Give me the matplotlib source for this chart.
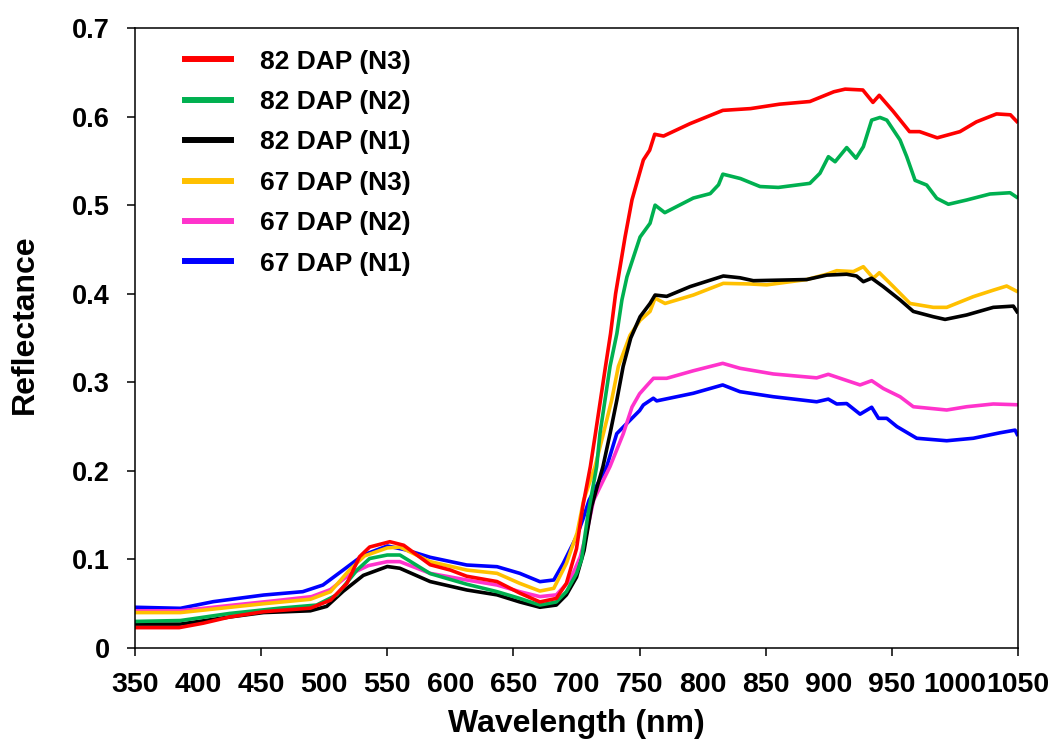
import matplotlib
matplotlib.use("Agg")
import matplotlib.pyplot as plt
from matplotlib.lines import Line2D

plt.rcParams['font.family'] = ['Liberation Sans', 'DejaVu Sans']
plt.rcParams['font.weight'] = 'bold'

# ---- spectra (wavelength nm, reflectance) ----
wl_82_n3 = [350, 385, 404, 425, 452, 489, 505, 518, 528, 536, 552, 563, 584, 600, 613, 637, 655, 671,
            684, 692, 700, 705, 711, 715, 719, 723, 727, 731, 738.5, 744, 753, 758, 762, 769, 790, 816,
            838, 861, 885, 904, 913, 927, 935, 940, 951, 964, 972, 986, 1004, 1017, 1033, 1044, 1050]
r_82_n3 = [0.023, 0.023, 0.028, 0.035, 0.041, 0.045, 0.054, 0.073, 0.103, 0.114, 0.120, 0.116, 0.094,
           0.088, 0.081, 0.075, 0.062, 0.052, 0.056, 0.073, 0.112, 0.160, 0.205, 0.242, 0.280, 0.318,
           0.355, 0.400, 0.464, 0.506, 0.551, 0.562, 0.580, 0.578, 0.592, 0.607, 0.609, 0.614, 0.617,
           0.628, 0.631, 0.630, 0.616, 0.624, 0.606, 0.583, 0.583, 0.576, 0.583, 0.594, 0.603, 0.602, 0.593]

wl_82_n2 = [350, 386, 425, 465, 494, 510, 526, 536, 550, 560, 584, 613, 637, 655, 671, 684, 692, 700,
            704, 709, 716, 718.6, 722.6, 726.6, 732, 736, 740, 750.4, 758.3, 762.3, 770, 792.6, 806,
            812.6, 816, 830, 845.5, 860, 885, 893, 899.7, 905, 914.2, 921.6, 927.4, 934, 940.6, 946,
            956.5, 961.8, 968.4, 977.6, 985.6, 994.8, 1009.3, 1027.8, 1043.7, 1050]
r_82_n2 = [0.030, 0.031, 0.039, 0.045, 0.0485, 0.060, 0.088, 0.101, 0.105, 0.105, 0.084, 0.072, 0.0636,
           0.056, 0.0485, 0.052, 0.0636, 0.084, 0.100, 0.150, 0.205, 0.242, 0.280, 0.318, 0.355, 0.393,
           0.419, 0.464, 0.4795, 0.500, 0.4915, 0.508, 0.513, 0.523, 0.535, 0.530, 0.521, 0.520, 0.5246,
           0.536, 0.5547, 0.549, 0.565, 0.553, 0.566, 0.596, 0.599, 0.596, 0.5735, 0.5547, 0.528, 0.5227,
           0.5077, 0.501, 0.5058, 0.5126, 0.514, 0.508]

wl_82_n1 = [350, 386, 425, 452, 489, 502, 515, 531, 550, 560, 584, 613, 637, 655, 671, 684, 692, 700,
            706, 712, 721, 726.6, 732, 737, 743, 750.4, 758.3, 762.3, 771.5, 790, 816.4, 829.6, 840.2,
            882.5, 898.4, 914.2, 922, 927.4, 934, 943.2, 956.5, 967, 982.9, 992.2, 1009.3, 1030.4,
            1046.3, 1050]
r_82_n1 = [0.027, 0.027, 0.035, 0.040, 0.042, 0.047, 0.064, 0.082, 0.092, 0.090, 0.075, 0.0655, 0.060,
           0.052, 0.046, 0.0485, 0.060, 0.080, 0.110, 0.160, 0.205, 0.242, 0.280, 0.318, 0.350, 0.374,
           0.389, 0.3985, 0.397, 0.408, 0.420, 0.418, 0.4147, 0.416, 0.421, 0.422, 0.420, 0.4136,
           0.4175, 0.408, 0.393, 0.380, 0.374, 0.371, 0.376, 0.3846, 0.386, 0.378]

wl_67_n3 = [350, 386, 452, 489, 505, 520, 532, 550, 560, 584, 613, 637, 655, 671, 682, 692, 700.5,
            705.7, 714.7, 721.3, 727.9, 733.2, 742.4, 750.4, 758.3, 762.3, 770.2, 792.6, 816.4, 837.6,
            850.8, 882.5, 898.4, 906.3, 919.5, 927.4, 935.3, 940.1, 951.2, 964.4, 982.9, 993.5,
            1014.6, 1030.4, 1041, 1050]
r_67_n3 = [0.040, 0.040, 0.050, 0.055, 0.0636, 0.088, 0.104, 0.113, 0.114, 0.0975, 0.088, 0.0843, 0.073,
           0.0643, 0.0674, 0.0956, 0.130, 0.167, 0.205, 0.242, 0.280, 0.318, 0.353, 0.370, 0.380, 0.395,
           0.389, 0.3985, 0.4117, 0.411, 0.410, 0.416, 0.422, 0.426, 0.425, 0.4305, 0.4175, 0.4237,
           0.408, 0.389, 0.3846, 0.3846, 0.3967, 0.404, 0.4087, 0.402]

wl_67_n2 = [350, 386, 425, 465, 490, 505, 520, 535, 550, 560, 584, 613, 637, 655, 671, 684, 695, 703,
            708, 713.6, 726.6, 737.1, 744, 750, 755.6, 761, 771.5, 792.6, 815.9, 829.6, 856, 890.4,
            899.6, 924.8, 934, 943.2, 956.5, 967, 993.5, 1009.3, 1030.4, 1050]
r_67_n2 = [0.042, 0.042, 0.048, 0.054, 0.058, 0.066, 0.083, 0.093, 0.0975, 0.0975, 0.0843, 0.0768,
           0.0711, 0.0636, 0.058, 0.060, 0.0768, 0.103, 0.130, 0.167, 0.205, 0.242, 0.272, 0.287, 0.296,
           0.3045, 0.3045, 0.313, 0.3214, 0.3158, 0.3094, 0.305, 0.309, 0.297, 0.3018, 0.293, 0.2837,
           0.2724, 0.2687, 0.2724, 0.2755, 0.2746]

wl_67_n1 = [350, 386, 412, 452, 483, 499, 515, 531, 550, 565, 584, 613, 637, 655, 671, 682, 689.5, 700,
            705, 710, 724, 731.9, 740, 750, 753, 760.9, 763.6, 792.6, 815.9, 829.6, 856, 890.4, 899.6,
            906.3, 914.2, 924.8, 934, 939.4, 946, 954, 969.7, 993.5, 1014.6, 1035.8, 1047.7, 1050]
r_67_n1 = [0.046, 0.0448, 0.0523, 0.0598, 0.0636, 0.0711, 0.088, 0.105, 0.1152, 0.1107, 0.1024, 0.0937,
           0.0918, 0.0843, 0.0749, 0.0768, 0.0956, 0.1257, 0.145, 0.167, 0.205, 0.242, 0.2537, 0.268,
           0.2744, 0.282, 0.279, 0.2876, 0.297, 0.2894, 0.2837, 0.278, 0.281, 0.2755, 0.276, 0.264,
           0.2718, 0.2593, 0.2593, 0.250, 0.2368, 0.234, 0.2368, 0.243, 0.246, 0.2394]

series = [
    ("82 DAP (N3)", wl_82_n3, r_82_n3, "#FF0000"),
    ("82 DAP (N2)", wl_82_n2, r_82_n2, "#00B050"),
    ("82 DAP (N1)", wl_82_n1, r_82_n1, "#000000"),
    ("67 DAP (N3)", wl_67_n3, r_67_n3, "#FFC000"),
    ("67 DAP (N2)", wl_67_n2, r_67_n2, "#FF33CC"),
    ("67 DAP (N1)", wl_67_n1, r_67_n1, "#0000FF"),
]

x_ticks = list(range(350, 1051, 50))
x_labels = [str(v) for v in x_ticks]
y_ticks = [0, 0.1, 0.2, 0.3, 0.4, 0.5, 0.6, 0.7]
y_labels = ["0", "0.1", "0.2", "0.3", "0.4", "0.5", "0.6", "0.7"]

fig = plt.figure(figsize=(10.52, 7.47), dpi=100)
ax = fig.add_axes([135 / 1052, 1 - 648 / 747, 883 / 1052, 620 / 747])

# draw bottom series first so the 82 DAP lines sit on top
for name, wl, r, col in reversed(series):
    ax.plot(wl, r, color=col, lw=2.6, solid_capstyle='butt', solid_joinstyle='round')

ax.set_xlim(350, 1050)
ax.set_ylim(0, 0.7)

# labels every 50 nm, tick marks only every 100 nm
ax.set_xticks(x_ticks)
ax.set_xticklabels(x_labels)
ax.tick_params(axis='x', direction='out', length=5.5, width=1.1, pad=11.5, labelsize=20.5)
for i, t in enumerate(ax.xaxis.get_major_ticks()):
    if i % 2:
        t.tick1line.set_visible(False)

ax.set_yticks(y_ticks)
ax.set_yticklabels(y_labels)
ax.tick_params(axis='y', direction='out', length=6, width=1.1, pad=12, labelsize=19.5)

for s in ax.spines.values():
    s.set_linewidth(1.1)

ax.set_xlabel("Wavelength (nm)", fontsize=23, fontweight='bold')
ax.set_ylabel("Reflectance", fontsize=23, fontweight='bold')
ax.xaxis.set_label_coords(0.5, -0.098)
ax.yaxis.set_label_coords(-0.108, 0.522)

handles = [Line2D([], [], color=c, lw=4.3) for _, _, _, c in series]
ax.legend(handles, [s[0] for s in series], loc='upper left', bbox_to_anchor=(0.057, 0.965),
          frameon=False, fontsize=19, handlelength=1.72, handletextpad=1.1, labelspacing=0.62,
          borderpad=0, borderaxespad=0)

fig.savefig("out.png", dpi=100)
